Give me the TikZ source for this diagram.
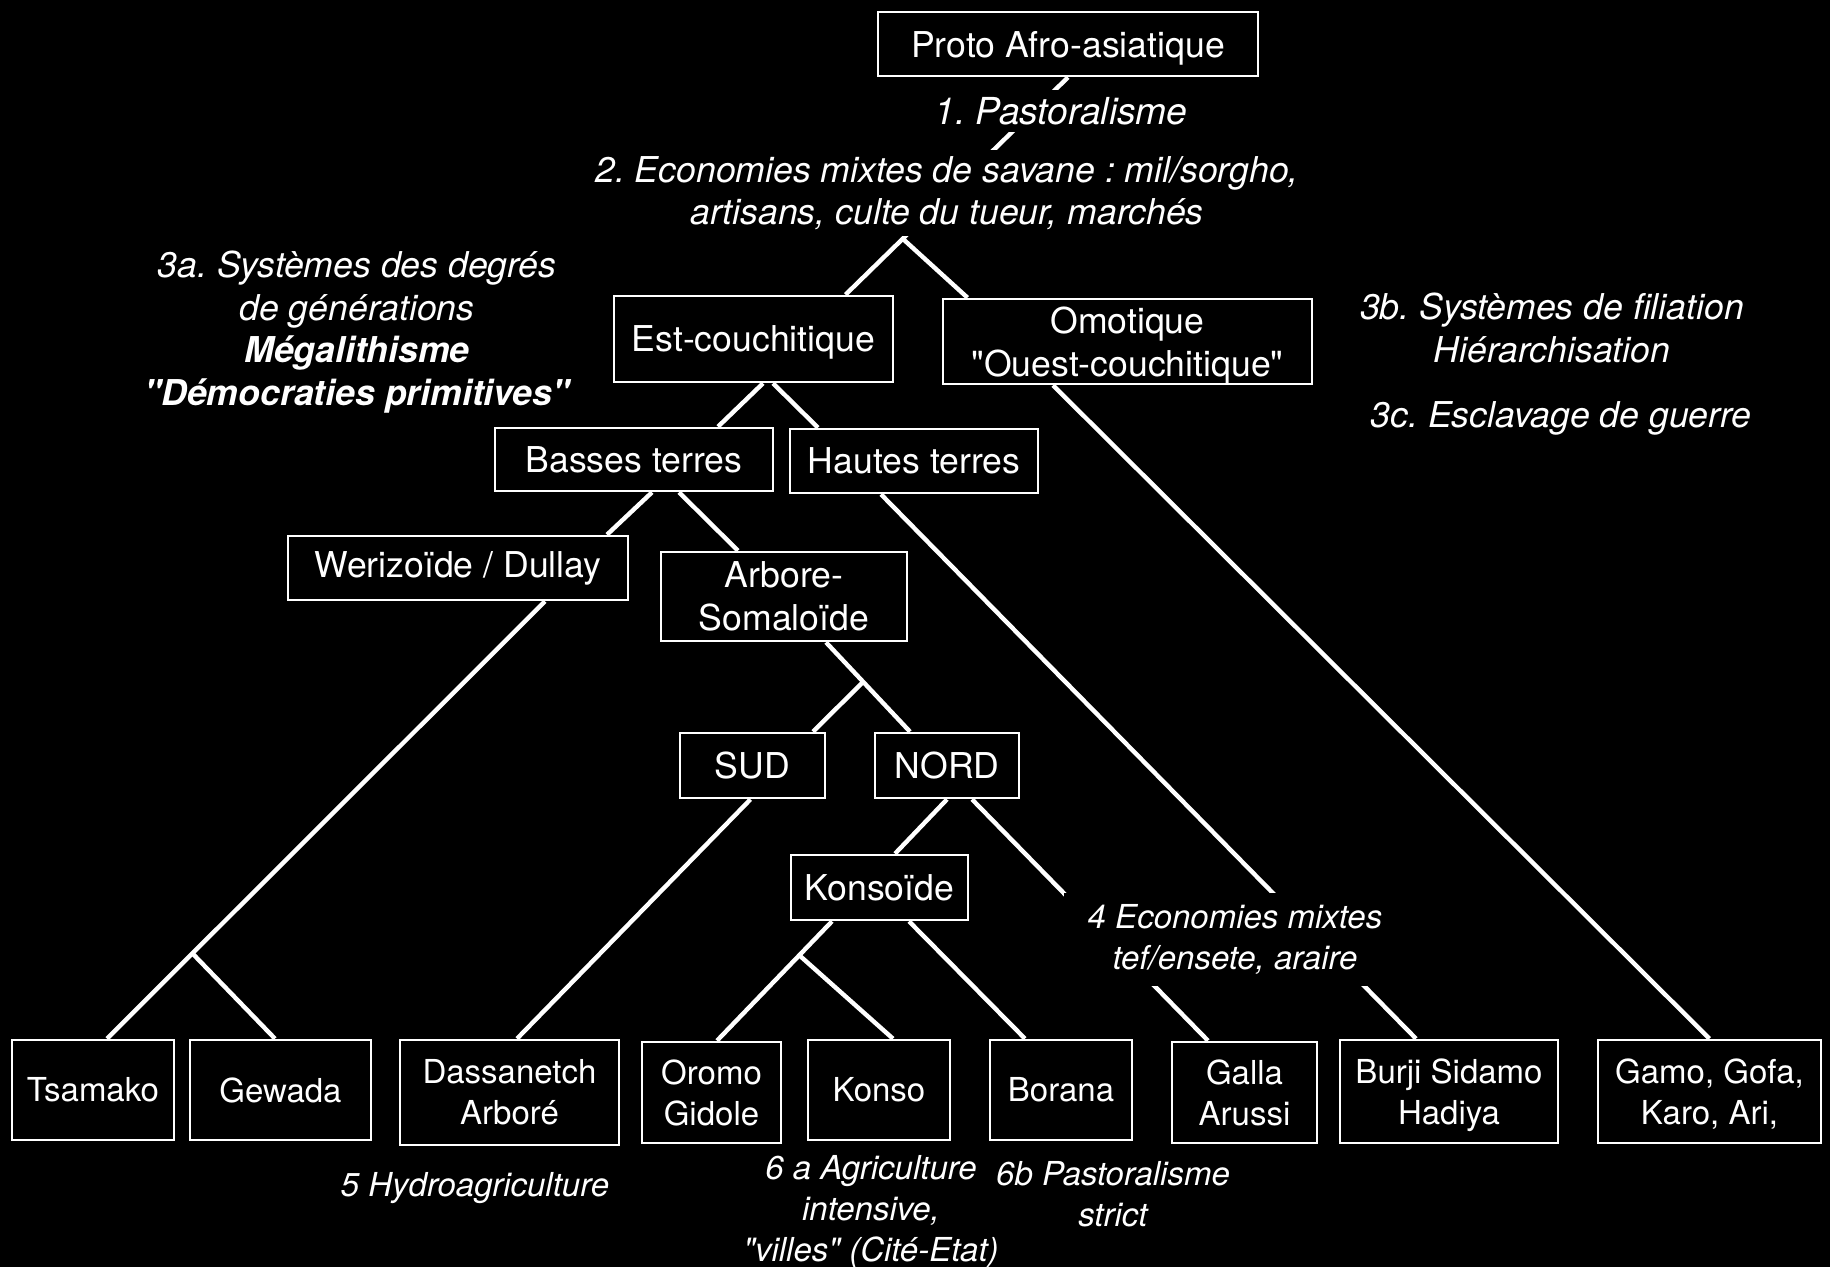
\documentclass[tikz,border=0pt]{standalone}
\usepackage{fontspec}
\setmainfont{TeX Gyre Heros}
\frenchspacing
\newcommand{\taille}{\fontsize{17.8}{21.3}\selectfont}
\newcommand{\petit}{\fontsize{16.5}{20.5}\selectfont}
\newcommand{\grand}{\fontsize{18.6}{22}\selectfont}
\newcommand{\guil}[1]{\textquotedbl#1\textquotedbl}
\newcommand{\sanspied}[1]{\raisebox{0pt}[\height][0pt]{#1}}

\begin{document}
\begin{tikzpicture}[
  x=0.5pt, y=-0.5pt,
  font=\taille,
  famille/.style={rectangle, draw=white, line width=1.3pt, text=white, align=center, inner sep=2pt},
  peuple/.style={famille, font=\petit},
  lien/.style={draw=white, line width=2.2pt},
  note/.style={fill=black, text=white, font=\taille\itshape, align=center, inner sep=2pt},
  notebas/.style={note, font=\petit\itshape, inner sep=1pt},
]
\useasboundingbox (0,0) rectangle (1830,1267);
\fill[black] (0,0) rectangle (1830,1267);

% familles de langues
\node[famille, minimum width=190pt, minimum height=32pt, text depth=0pt] (proto) at (1068,44) {Proto Afro-asiatique};
\node[famille, minimum width=139.5pt, minimum height=43pt, text depth=0pt] (est) at (753.5,339) {Est-couchitique};
\node[famille, minimum width=184.5pt, minimum height=42.5pt] (omo) at (1127.5,341.5) {Omotique\\\sanspied{\guil{Ouest-couchitique}}};
\node[famille, minimum width=139pt, minimum height=31.5pt] (basses) at (634,459.5) {Basses terres};
\node[famille, minimum width=124pt, minimum height=32pt] (hautes) at (914,461) {Hautes terres};
\node[famille, minimum width=170pt, minimum height=32pt] (wer) at (458,568) {Werizoïde / Dullay};
\node[famille, minimum width=123pt, minimum height=44.5pt] (arbore) at (784,596.5) {Arbore-\\Somaloïde};
\node[famille, minimum width=72.5pt, minimum height=32.5pt] (sud) at (752.5,765.5) {SUD};
\node[famille, minimum width=72pt, minimum height=32.5pt] (nord) at (947,765.5) {NORD};
\node[famille, minimum width=88.5pt, minimum height=32.5pt] (konsoide) at (879.5,887.5) {Konsoïde};

% peuples
\node[peuple, minimum width=81pt, minimum height=50pt] (tsamako) at (93,1090) {Tsamako};
\node[peuple, minimum width=90.5pt, minimum height=50pt] (gewada) at (280.5,1090) {Gewada};
\node[peuple, minimum width=109.5pt, minimum height=52.5pt] (dassanetch) at (509.5,1092.5) {Dassanetch\\Arboré};
\node[peuple, minimum width=69.5pt, minimum height=50.5pt] (oromo) at (711.5,1092.5) {Oromo\\Gidole};
\node[peuple, minimum width=71pt, minimum height=50pt] (konso) at (879,1090) {Konso};
\node[peuple, minimum width=71pt, minimum height=50pt] (borana) at (1061,1090) {Borana};
\node[peuple, minimum width=72.5pt, minimum height=50.5pt] (galla) at (1244.5,1092.5) {Galla\\Arussi};
\node[peuple, minimum width=109pt, minimum height=51.5pt] (burji) at (1449,1091.5) {Burji Sidamo\\\sanspied{Hadiya}};
\node[peuple, minimum width=111.5pt, minimum height=51.5pt] (gamo) at (1709.5,1091.5) {Gamo, Gofa,\\\sanspied{Karo, Ari,}};

% branches
\draw[lien] (proto.south) -- ([xshift=46pt]est.north);
\coordinate (f-omo) at (903,239);
\draw[lien] (f-omo) -- ([xshift=-80pt]omo.north);
\draw[lien] ([xshift=4.75pt]est.south) -- ([xshift=42pt]basses.north);
\draw[lien] ([xshift=9.75pt]est.south) -- ([xshift=-48pt]hautes.north);
\draw[lien] ([xshift=9pt]basses.south) -- ([xshift=74.5pt]wer.north);
\draw[lien] ([xshift=22.5pt]basses.south) -- ([xshift=-23pt]arbore.north);
\draw[lien] ([xshift=43.5pt]wer.south) -- ([xshift=7pt]tsamako.north);
\coordinate (f-gew) at (193,954);
\draw[lien] (f-gew) -- ([xshift=-2.75pt]gewada.north);
\draw[lien] ([xshift=21pt]arbore.south) -- ([xshift=-18.5pt]nord.north);
\coordinate (f-sud) at (863,682);
\draw[lien] (f-sud) -- ([xshift=30.25pt]sud.north);
\draw[lien] ([xshift=-1pt]sud.south) -- ([xshift=3.75pt]dassanetch.north);
\draw[lien] (nord.south) -- ([xshift=7.75pt]konsoide.north);
\draw[lien] ([xshift=12.5pt]nord.south) -- ([xshift=-18.25pt]galla.north);
\draw[lien] ([xshift=-16.5pt]hautes.south) -- ([xshift=-16.5pt]burji.north);
\draw[lien] ([xshift=-37.25pt]omo.south) -- (gamo.north);
\draw[lien] ([xshift=-23.75pt]konsoide.south) -- ([xshift=2.75pt]oromo.north);
\coordinate (f-konso) at (799,955);
\draw[lien] (f-konso) -- ([xshift=7pt]konso.north);
\draw[lien] ([xshift=14.75pt]konsoide.south) -- ([xshift=-18pt]borana.north);

% economies et societes
\node[note, font=\grand\itshape, minimum height=21pt, inner sep=1pt] (pasto) at (1061,111) {1. Pastoralisme};
\node[note, minimum height=43pt] (savane) at (947,193) {2. Economies mixtes de savane : mil/sorgho,\\artisans, culte du tueur, marchés};
\node[note] (degres) at (357,332) {3a. Systèmes des degrés\\de générations\\\textbf{Mégalithisme}\\\textbf{\guil{Démocraties primitives}}};
\node[note] (filiation) at (1552,328) {3b. Systèmes de filiation\\Hiérarchisation};
\node[note] (esclavage) at (1561,418) {3c. Esclavage de guerre};
\node[notebas, minimum width=171pt, minimum height=46.5pt] (tef) at (1235,939) {4 Economies mixtes\\tef/ensete, araire};
\node[notebas] (hydro) at (475,1188) {5 Hydroagriculture};
\node[notebas] (villes) at (871,1212) {6 a Agriculture\\intensive,\\\guil{villes} (Cité-Etat)};
\node[notebas] (strict) at (1113,1194) {6b Pastoralisme\\strict};

\end{tikzpicture}
\end{document}
